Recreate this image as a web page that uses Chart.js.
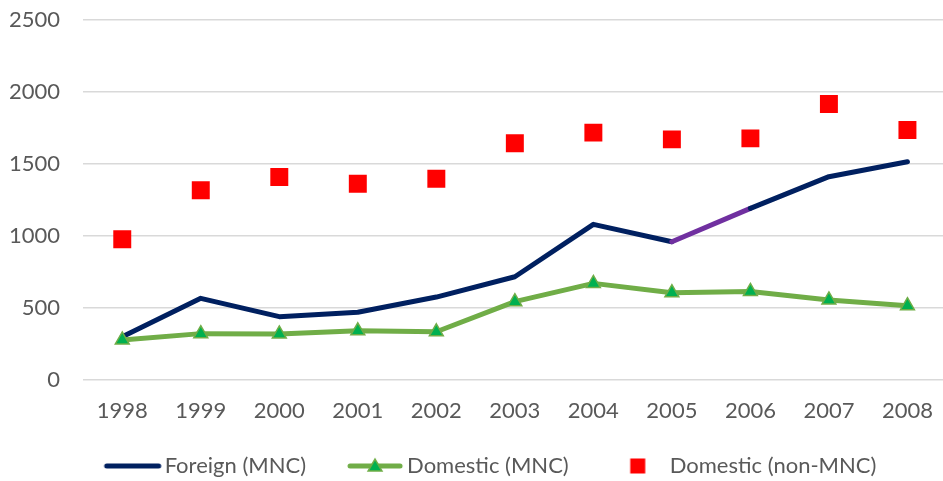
<!DOCTYPE html>
<html>
<head>
<meta charset="utf-8">
<script src="https://cdn.jsdelivr.net/npm/chart.js@4/dist/chart.umd.min.js"></script>
<style>
  html, body { margin: 0; padding: 0; background: #ffffff; overflow: hidden; }
  #wrap { width: 951px; height: 481px; position: relative; }
</style>
</head>
<body>
<div id="wrap"><canvas id="c"></canvas></div>
<script>
// ---- data ----
const years = ['1998','1999','2000','2001','2002','2003','2004','2005','2006','2007','2008'];
const foreignMNC = [300, 567, 440, 470, 576, 717, 1081, 960, 1192, 1412, 1516];
const domesticMNC = [278, 322, 320, 342, 335, 544, 671, 606, 615, 556, 516];
const domesticNonMNC = [977, 1317, 1410, 1363, 1398, 1644, 1718, 1671, 1678, 1917, 1736];
const yTicks = [0, 500, 1000, 1500, 2000, 2500];
const seriesNames = ['Foreign (MNC)', 'Domestic (MNC)', 'Domestic (non-MNC)'];
const highlightFrom = '2005';

const NAVY = '#002060', PURPLE = '#7030A0', GREEN = '#70AD47', GREEN_DARK = '#00B050', RED = '#FF0000';
const TXT = '#595959';
const FONT = 'Lato';

function makeIcon(w, h, draw) {
  const c = document.createElement('canvas');
  c.width = w; c.height = h;
  draw(c.getContext('2d'), w, h);
  return c;
}
function triPath(g, x, y, r) {
  g.beginPath();
  g.moveTo(x, y - r);
  g.lineTo(x + r * Math.sin(2 * Math.PI / 3), y - r * Math.cos(2 * Math.PI / 3));
  g.lineTo(x + r * Math.sin(4 * Math.PI / 3), y - r * Math.cos(4 * Math.PI / 3));
  g.closePath();
}
// legend icons: box width W, icon shifted toward the text
const W = 80, SHIFT = 19;
const iconForeign = makeIcon(120, 20, (g, w, h) => {
  const cx = w / 2 + SHIFT;
  g.strokeStyle = NAVY; g.lineWidth = 5; g.lineCap = 'round';
  g.beginPath(); g.moveTo(cx - 26, h / 2); g.lineTo(cx + 26, h / 2); g.stroke();
});
const iconDomestic = makeIcon(120, 24, (g, w, h) => {
  const cx = w / 2 + SHIFT;
  g.strokeStyle = GREEN; g.lineWidth = 5; g.lineCap = 'round';
  g.beginPath(); g.moveTo(cx - 25, h / 2); g.lineTo(cx + 25, h / 2); g.stroke();
  triPath(g, cx, h / 2 + 1, 8);
  g.fillStyle = GREEN_DARK; g.fill();
  g.strokeStyle = GREEN; g.lineWidth = 1.5; g.stroke();
});
const iconNon = makeIcon(120, 24, (g, w, h) => {
  const cx = w / 2 + SHIFT;
  g.fillStyle = RED; g.fillRect(cx - 7.5, h / 2 - 7.5, 15, 15);
});
const icons = [iconForeign, iconDomestic, iconNon];

const hlIndex = years.indexOf(highlightFrom);

new Chart(document.getElementById('c'), {
  type: 'line',
  data: {
    labels: years,
    datasets: [
      {
        label: seriesNames[0], data: foreignMNC, order: 2,
        borderColor: NAVY, borderWidth: 5, borderCapStyle: 'round', borderJoinStyle: 'round',
        pointRadius: 0, pointHoverRadius: 0, fill: false, tension: 0,
        segment: { borderColor: ctx => ctx.p0DataIndex === hlIndex ? PURPLE : NAVY }
      },
      {
        label: seriesNames[1], data: domesticMNC, order: 1,
        borderColor: GREEN, borderWidth: 5, borderCapStyle: 'round', borderJoinStyle: 'round',
        pointStyle: 'triangle', pointRadius: 8, pointBorderWidth: 1.5,
        pointBackgroundColor: GREEN_DARK, pointBorderColor: GREEN, fill: false, tension: 0
      },
      {
        label: seriesNames[2], data: domesticNonMNC, order: 3, showLine: false,
        pointStyle: 'rect', pointRadius: 12.7, pointBorderWidth: 0,
        pointBackgroundColor: RED, pointBorderColor: RED, borderColor: RED, backgroundColor: RED
      }
    ]
  },
  options: {
    responsive: true, maintainAspectRatio: false, animation: false,
    layout: { autoPadding: false, padding: { top: 20, right: 1, left: 0, bottom: -6 } },
    plugins: {
      tooltip: { enabled: false },
      legend: {
        position: 'bottom',
        labels: {
          usePointStyle: true, pointStyleWidth: W, boxHeight: 22,
          padding: 10, color: TXT, font: { family: FONT, size: 22 },
          generateLabels: chart => chart.data.datasets.map((d, i) => ({
            text: d.label, pointStyle: icons[i], fontColor: TXT,
            strokeStyle: 'transparent', fillStyle: 'transparent', lineWidth: 0,
            hidden: false, datasetIndex: i
          }))
        }
      }
    },
    scales: {
      x: {
        offset: true,
        afterFit: s => { s.height = 65; },
        grid: { display: false, drawTicks: false, offset: true },
        border: { display: false },
        ticks: { color: TXT, font: { family: FONT, size: 22 }, padding: 18, maxRotation: 0 }
      },
      y: {
        min: 0, max: 2500,
        afterBuildTicks: s => { s.ticks = yTicks.map(v => ({ value: v })); },
        afterFit: s => { s.width = 83; },
        grid: { color: '#D9D9D9', lineWidth: 1.5, drawTicks: true, tickLength: 23, tickColor: 'rgba(0,0,0,0)' },
        border: { display: false },
        ticks: { color: TXT, font: { family: FONT, size: 22 }, padding: 0, callback: v => String(v) }
      }
    }
  }
});
</script>
</body>
</html>
